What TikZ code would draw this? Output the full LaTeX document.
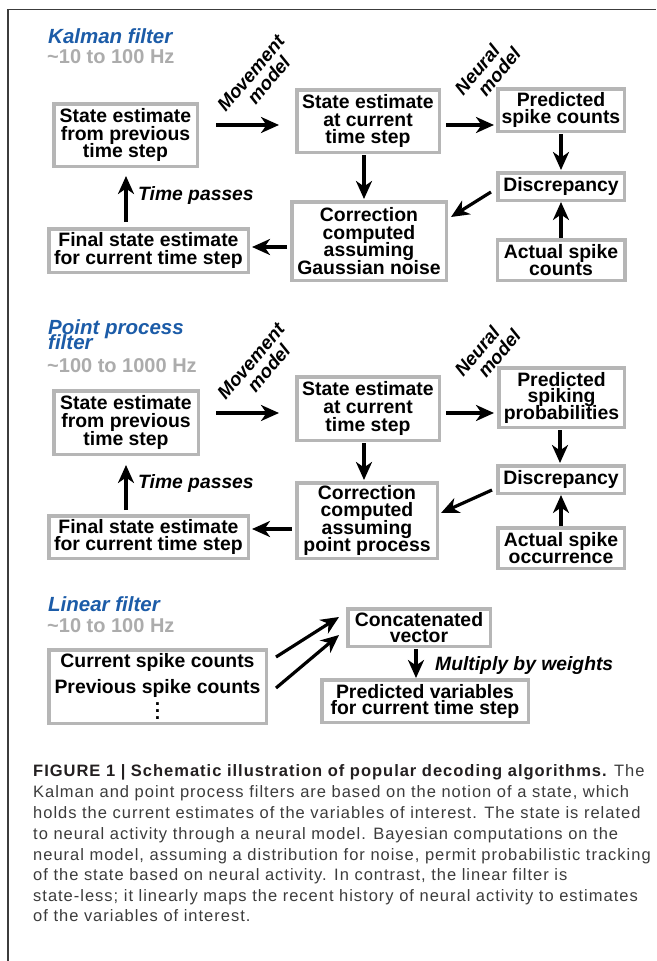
\documentclass[tikz,border=0pt]{standalone}
\usepackage{fontspec}
\setmainfont{Liberation Sans}
\newfontfamily\capfont{Liberation Sans}[LetterSpace=6]
\usetikzlibrary{arrows.meta,calc}
\definecolor{boxgray}{RGB}{182,182,182}
\definecolor{ttlblue}{RGB}{28,92,168}
\definecolor{hzgray}{RGB}{172,172,172}
\definecolor{framegray}{RGB}{60,60,60}
\definecolor{captxt}{RGB}{60,60,60}
\definecolor{capbold}{RGB}{35,31,32}
\newcommand\tightls{\lineskiplimit=-50pt\relax}
\newcommand\boxfnt[1]{\fontsize{19.4}{#1}\selectfont\bfseries\tightls}
\newcommand\ttlfnt{\fontsize{20.5}{15}\selectfont\bfseries\itshape\tightls}
\newcommand\rotfnt{\fontsize{18.8}{18.3}\selectfont\bfseries\itshape\tightls}
\newcommand\threedots{\vbox{\baselineskip=7pt\lineskiplimit=-20pt\hbox{.}\hbox{.}\hbox{.}}}
\begin{document}
\begin{tikzpicture}[x=1pt,y=-1pt,
  bx/.style n args={2}{draw=boxgray, line width=3.5pt, fill=white, align=center,
    inner sep=0pt, minimum width=#1, minimum height=#2, font=\boxfnt{17.7}},
  lsk/.style={font=\boxfnt{#1}},
  arr/.style={-{Stealth[length=18pt,width=16pt,inset=5.5pt]}, line width=3.2pt, black},
  lbl/.style={font=\fontsize{19.3}{18}\selectfont\bfseries\itshape, inner sep=0pt},
  rlbl/.style={font=\rotfnt, inner sep=0pt, align=center, rotate=50},
  ttl/.style={font=\ttlfnt, text=ttlblue, inner sep=0pt, align=left},
  hz/.style={font=\fontsize{20}{20}\selectfont\bfseries, text=hzgray, inner sep=0pt},
  capline/.style={font=\fontsize{16.5}{20}\capfont, text=captxt, inner sep=0pt, anchor=base west}
]
\useasboundingbox (0,0) rectangle (656,961);
\fill[white] (0,0) rectangle (656,961);
\draw[framegray, line width=1.2pt] (8,961) -- (8,9.5) -- (656,9.5);

% ---------------- Kalman filter ----------------
\node[ttl, anchor=base west] (t1) at (48,43) {Kalman filter};
\node[hz, anchor=base west] (h1) at (47,63) {\textasciitilde10 to 100 Hz};

\node[bx={143.5}{62.5}] (A1) at (125.5,135) {State estimate\\from previous\\time step};
\node[bx={142.5}{62.5}] (B1) at (368,121) {State estimate\\at current\\time step};
\node[bx={126.5}{42.5}] (C1) at (561,110) {Predicted\\spike counts};
\node[bx={126.5}{27.5}] (D1) at (561,186.5) {Discrepancy};
\node[bx={127.5}{40.5}] (E1) at (561,260) {Actual spike\\counts};
\node[bx={154.5}{78.5}] (F1) at (369,241) {Correction\\computed\\assuming\\Gaussian noise};
\node[bx={199.5}{43.5}] (G1) at (148.5,250.5) {Final state estimate\\for current time step};

\node[rlbl] (m1) at (258,79) {Movement\\\hspace*{12pt}model};
\node[rlbl] (n1) at (484,75.4) {Neural\\\hspace*{25pt}model};
\node[lbl, anchor=base west] (tp1) at (138,200) {Time passes};

\draw[arr] ($(A1.east)+(17,-10)$) -- ($(B1.west)+(-16,4)$);
\draw[arr] ($(B1.east)+(5,4)$) -- ($(C1.west)+(-2,15)$);
\draw[arr] ($(C1.south)+(0,1)$) -- ($(D1.north)+(0,-1)$);
\draw[arr] (E1.north) -- (D1.south);
\draw[arr] ($(D1.west)+(-5,5.5)$) -- ($(F1.east)+(3,-24)$);
\draw[arr] ($(B1.south)+(-4,1)$) -- ($(F1.north)+(-5,-1)$);
\draw[arr] ($(F1.west)+(-3,6)$) -- ($(G1.east)+(2,-3.5)$);
\draw[arr] ($(G1.north)+(-22.5,-5)$) -- ($(A1.south)+(0.5,8)$);

% ---------------- Point process filter ----------------
\node[ttl, anchor=north west] (t2) at (48,319.5) {Point process\\filter};
\node[hz, anchor=base west] (h2) at (47,372) {\textasciitilde100 to 1000 Hz};

\node[bx={144.5}{63.5}] (A2) at (126,422.5) {State estimate\\from previous\\time step};
\node[bx={142.5}{63.5}] (B2) at (368,408.5) {State estimate\\at current\\time step};
\node[bx={125.5}{59.5}, lsk=16.5] (C2) at (561.5,397.5) {Predicted\\spiking\\probabilities};
\node[bx={126.5}{27.5}] (D2) at (561,479.5) {Discrepancy};
\node[bx={126.5}{40.5}] (E2) at (561,548) {Actual spike\\occurrence};
\node[bx={140.5}{75.5}, lsk=17.4] (F2) at (367,520.5) {Correction\\computed\\assuming\\point process};
\node[bx={199.5}{42.5}, lsk=17] (G2) at (148.5,537) {Final state estimate\\for current time step};

\node[rlbl] (m2) at (258,367) {Movement\\\hspace*{12pt}model};
\node[rlbl] (n2) at (484,357) {Neural\\\hspace*{25pt}model};
\node[lbl, anchor=base west] (tp2) at (138,488) {Time passes};

\draw[arr] ($(A2.east)+(16,-9.5)$) -- ($(B2.west)+(-16,4.5)$);
\draw[arr] ($(B2.east)+(5,4.5)$) -- ($(C2.west)+(-3,15.5)$);
\draw[arr] ($(C2.south)+(-1.5,1)$) -- ($(D2.north)+(-1,-1)$);
\draw[arr] (E2.north) -- (D2.south);
\draw[arr] ($(D2.west)+(-4,10.5)$) -- ($(F2.east)+(2,-7.5)$);
\draw[arr] ($(B2.south)+(-4,1)$) -- ($(F2.north)+(-3,-1)$);
\draw[arr] ($(F2.west)+(-3,8.5)$) -- ($(G2.east)+(2,-8)$);
\draw[arr] ($(G2.north)+(-22.5,-4)$) -- ($(A2.south)+(0,9)$);

% ---------------- Linear filter ----------------
\node[ttl, anchor=base west] (t3) at (48,611) {Linear filter};
\node[hz, anchor=base west] (h3) at (47,632) {\textasciitilde10 to 100 Hz};

\node[bx={217.5}{73.5}, lsk=26] (H) at (157.5,686.5) {Current spike counts\\Previous spike counts\\\threedots};
\node[bx={142.5}{37.5}, lsk=15.5] (I) at (419,627.5) {Concatenated\\vector};
\node[bx={206.5}{42.5}, lsk=16] (J) at (425,701) {Predicted variables\\for current time step};
\node[lbl, anchor=base west] (mw) at (435,670) {Multiply by weights};

\draw[arr] ($(H.east)+(8,-29.5)$) -- ($(I.west)+(-7,-10.5)$);
\draw[arr] ($(H.east)+(8,1.5)$) -- ($(I.west)+(-7,7.5)$);
\draw[arr] ($(I.south)+(-3,1)$) -- ($(J.north)+(-9,0)$);

% ---------------- Caption ----------------
\node[capline] (c1) at (33,776) {{\color{capbold}\bfseries FIGURE 1 | Schematic illustration of popular decoding algorithms.} The};
\node[capline] (c2) at (33,797) {Kalman and point process filters are based on the notion of a state, which};
\node[capline] (c3) at (33,818) {holds the current estimates of the variables of interest. The state is related};
\node[capline] (c4) at (33,839) {to neural activity through a neural model. Bayesian computations on the};
\node[capline] (c5) at (33,860) {neural model, assuming a distribution for noise, permit probabilistic tracking};
\node[capline] (c6) at (33,880) {of the state based on neural activity. In contrast, the linear filter is};
\node[capline] (c7) at (33,901) {state-less; it linearly maps the recent history of neural activity to estimates};
\node[capline] (c8) at (33,921) {of the variables of interest.};
\end{tikzpicture}
\end{document}
